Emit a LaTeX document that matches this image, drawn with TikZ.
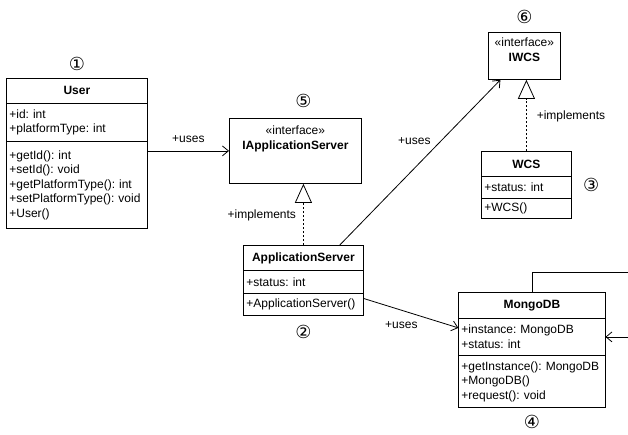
\documentclass[tikz,border=0pt]{standalone}
\usepackage{fontspec}
\setmainfont{Liberation Sans}
\newfontfamily\circfont{DejaVu Sans}
\usepackage{tikz}
\usetikzlibrary{positioning,matrix,arrows.meta}

\newcommand\umlfont{\fontsize{12}{14.5}\selectfont\frenchspacing}

\tikzset{
	umlclass/.style n args={4}{matrix of nodes, inner sep=0pt, outer sep=0pt,
		row sep=-\pgflinewidth,
		nodes={draw, fill=white, align=left, text width=#1, inner xsep=3pt, inner ysep=1pt, font=\umlfont},
		row 1/.style={nodes={minimum height=#2, align=center, font=\umlfont\bfseries}},
		row 2/.style={nodes={minimum height=#3}},
		row 3/.style={nodes={minimum height=#4}}},
	iface/.style={draw, fill=white, align=center, font=\umlfont, inner sep=0pt},
	num/.style={font=\circfont\fontsize{18}{18}\selectfont, inner sep=1pt},
	uses/.style={-{Straight Barb[length=6pt,width=10pt]}},
	realizes/.style={dash pattern=on 2pt off 2pt, -{Triangle[open,length=19pt,width=17pt]}},
	lbl/.style={font=\umlfont, inner sep=2pt}
}

\begin{document}
\begin{tikzpicture}[x=1pt, y=-1pt, line width=0.8pt]
	\useasboundingbox (0,0) rectangle (628,434);

	\matrix[umlclass={135pt}{25pt}{38pt}{87pt}, anchor=north west,
		label={[num, name=n1, label distance=6pt]above:①}] (user) at (6,78) {
		User \\
		{+id: int\\+platformType: int} \\
		{+getId(): int\\+setId(): void\\+getPlatformType(): int\\+setPlatformType(): void\\+User()} \\
	};
	\node[iface, minimum width=132pt, minimum height=65pt, anchor=north west,
		label={[num, name=n5, xshift=8pt, label distance=9pt]above:⑤}] (iapp) at (229,118)
		{«interface»\\\textbf{IApplicationServer}\\[8pt]\strut};
	\matrix[umlclass={114pt}{25pt}{23pt}{22pt}, anchor=north west,
		label={[num, name=n2, label distance=8pt]below:②}] (appsrv) at (243,245) {
		ApplicationServer \\
		+status: int \\
		+ApplicationServer() \\
	};
	\node[iface, minimum width=72pt, minimum height=47pt, anchor=north west,
		label={[num, name=n6, label distance=7pt]above:⑥}] (iwcs) at (488,32)
		{«interface»\\\textbf{IWCS}\\[-6pt]\strut};
	\matrix[umlclass={84pt}{25pt}{22pt}{20pt}, anchor=north west,
		label={[num, name=n3, label distance=10pt]right:③}] (wcs) at (481,151) {
		WCS \\
		+status: int \\
		+WCS() \\
	};
	\matrix[umlclass={141pt}{26pt}{37pt}{52pt}, anchor=north west,
		label={[num, name=n4, label distance=6pt]below:④}] (mongo) at (458,292) {
		MongoDB \\
		{+instance: MongoDB\\+status: int} \\
		{+getInstance(): MongoDB\\+MongoDB()\\+request(): void} \\
	};
	\coordinate (loopR) at (634,272);

	\draw[uses] (user.east |- iapp.west) -- node[lbl, above=6pt] {+uses} (iapp.west);
	\draw[realizes] (appsrv.north) -- node[lbl, pos=0.48, left=5pt] {+implements} (appsrv.north |- iapp.south);
	\draw[realizes] (wcs.north) -- node[lbl, pos=0.49, right=8pt] {+implements} (wcs.north |- iwcs.south);
	\draw[uses] ([xshift=-24pt]appsrv.north east) -- node[lbl, pos=0.63, left=8pt] {+uses} ([xshift=-24pt]iwcs.south);
	\draw[uses] ([yshift=-5pt]appsrv-3-1.north east) -- node[lbl, pos=0.4, below=9pt] {+uses} ([yshift=9pt]mongo-2-1.west);
	\draw[uses] (mongo-1-1.north) |- (loopR) |- (mongo-2-1.east);
\end{tikzpicture}
\end{document}
